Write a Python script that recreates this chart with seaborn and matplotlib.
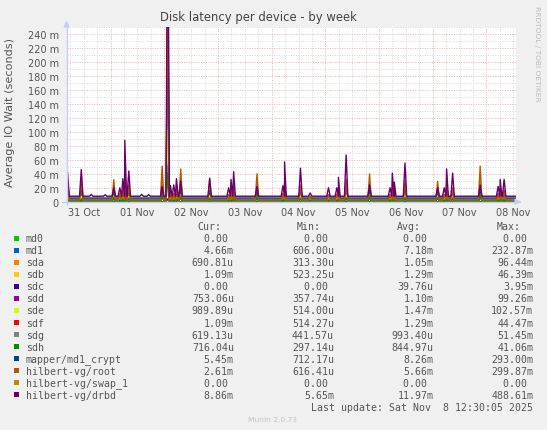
import numpy as np
import pandas as pd
import matplotlib
matplotlib.use("Agg")
import matplotlib.pyplot as plt
from matplotlib.patches import Rectangle
import seaborn as sns

# ---------------- data ----------------
devices = ["md0", "md1", "sda", "sdb", "sdc", "sdd", "sde", "sdf", "sdg", "sdh",
           "mapper/md1_crypt", "hilbert-vg/root", "hilbert-vg/swap_1", "hilbert-vg/drbd"]
colors = ["#00CC00", "#0066B3", "#FF8000", "#FFCC00", "#330099", "#990099", "#CCFF00",
          "#FF0000", "#808080", "#008F00", "#00487D", "#B35A00", "#B38F00", "#6B006B"]

# baseline level of each device (milli-seconds)
baseline = [0.0, 3.8, 0.8, 1.1, 0.0, 0.8, 1.0, 1.3, 0.6, 0.5, 5.3, 2.6, 0.0, 7.8]

# time of each spike, in days since 31 Oct 00:00
spike_days = [0.20, 0.455, 0.64, 0.90, 1.061, 1.173, 1.229, 1.266, 1.340, 1.58, 1.71,
              1.961, 2.065, 2.115, 2.177, 2.227, 2.307, 2.846, 3.199, 3.243, 3.292,
              3.727, 4.210, 4.240, 4.537, 4.717, 5.058, 5.214, 5.243, 5.387, 5.823,
              6.204, 6.247, 6.284, 6.483, 7.091, 7.214, 7.258, 7.370, 7.883, 8.217,
              8.255, 8.329]

# spike peak values per device (milli-seconds), aligned with spike_days
peaks_md0 = [0] * 43
peaks_md1 = [28, 16, 0, 0, 11, 8, 12, 30, 16, 0, 0, 14, 232, 10, 10, 13, 14, 13, 8, 12, 16,
             11, 9, 20, 17, 6, 8, 8, 12, 22, 13, 8, 14, 10, 19, 11, 8, 16, 14, 14, 9, 11, 11]
peaks_sda = [18, 12, 0, 0, 20, 6, 8, 20, 10, 0, 0, 30, 96, 6, 6, 8, 28, 14, 5, 7, 10,
             24, 6, 12, 10, 4, 5, 5, 8, 14, 24, 5, 9, 7, 12, 18, 5, 10, 9, 30, 6, 7, 7]
peaks_sdb = [6, 5, 0, 0, 8, 3, 4, 10, 5, 0, 0, 12, 46, 3, 3, 4, 10, 6, 3, 4, 5,
             9, 3, 6, 5, 2, 3, 3, 4, 6, 9, 3, 5, 4, 6, 7, 3, 5, 5, 12, 3, 4, 4]
peaks_sdc = [0] * 12 + [3.95] + [0] * 30
peaks_sdd = [14, 10, 0, 0, 8, 5, 7, 22, 9, 0, 0, 10, 99, 5, 5, 7, 9, 10, 4, 6, 9,
             8, 5, 11, 9, 3, 4, 4, 7, 12, 8, 4, 8, 6, 11, 8, 4, 9, 8, 10, 5, 6, 6]
peaks_sde = [10, 8, 0, 0, 9, 4, 6, 18, 8, 0, 0, 12, 102, 4, 4, 6, 10, 9, 3, 5, 8,
             10, 4, 10, 8, 3, 4, 4, 6, 10, 10, 4, 7, 5, 10, 9, 4, 8, 7, 12, 4, 5, 5]
peaks_sdf = [5, 4, 0, 0, 6, 3, 4, 9, 5, 0, 0, 10, 44, 3, 3, 4, 8, 5, 3, 4, 5,
             8, 3, 6, 5, 2, 3, 3, 4, 6, 8, 3, 5, 4, 6, 6, 3, 5, 5, 10, 3, 4, 4]
peaks_sdg = [5, 4, 0, 0, 6, 3, 4, 10, 5, 0, 0, 10, 51, 3, 3, 4, 8, 5, 3, 4, 5,
             8, 3, 6, 5, 2, 3, 3, 4, 6, 8, 3, 5, 4, 6, 6, 3, 5, 5, 10, 3, 4, 4]
peaks_sdh = [4, 3, 0, 0, 5, 2, 3, 8, 4, 0, 0, 8, 41, 2, 2, 3, 6, 4, 2, 3, 4,
             6, 2, 5, 4, 2, 2, 2, 3, 5, 6, 2, 4, 3, 5, 5, 2, 4, 4, 8, 2, 3, 3]
peaks_mapper = [30, 20, 0, 0, 14, 10, 14, 38, 20, 0, 0, 18, 293, 12, 12, 16, 18, 16, 10, 14, 20,
                14, 11, 25, 21, 7, 10, 10, 15, 28, 16, 10, 18, 12, 24, 14, 10, 20, 18, 18, 11, 14, 14]
peaks_root = [22, 30, 0, 0, 31.5, 12, 18, 45, 24, 0, 0, 51, 299, 14, 12, 18, 47, 34, 10, 16, 22,
              40, 12, 28, 24, 8, 10, 11, 18, 32, 40, 10, 20, 15, 30, 29, 10, 24, 20, 51, 12, 16, 17]
peaks_swap = [0] * 43
peaks_drbd = [42, 46, 10.5, 10, 20, 20, 33, 88, 44, 10.5, 10, 22, 488, 23, 24, 33, 30, 33, 20, 32, 43,
              22, 23, 57, 48, 12.5, 20, 20, 35, 67, 24, 20, 41, 28, 55.5, 20, 20, 47, 41, 24, 22, 32, 32]

all_peaks = [peaks_md0, peaks_md1, peaks_sda, peaks_sdb, peaks_sdc, peaks_sdd, peaks_sde,
             peaks_sdf, peaks_sdg, peaks_sdh, peaks_mapper, peaks_root, peaks_swap, peaks_drbd]

cur_vals = ["0.00", "4.66m", "690.81u", "1.09m", "0.00", "753.06u", "989.89u", "1.09m",
            "619.13u", "716.04u", "5.45m", "2.61m", "0.00", "8.86m"]
min_vals = ["0.00", "606.00u", "313.30u", "523.25u", "0.00", "357.74u", "514.00u", "514.27u",
            "441.57u", "297.14u", "712.17u", "616.41u", "0.00", "5.65m"]
avg_vals = ["0.00", "7.18m", "1.05m", "1.29m", "39.76u", "1.10m", "1.47m", "1.29m",
            "993.40u", "844.97u", "8.26m", "5.66m", "0.00", "11.97m"]
max_vals = ["0.00", "232.87m", "96.44m", "46.39m", "3.95m", "99.26m", "102.57m", "44.47m",
            "51.45m", "41.06m", "293.00m", "299.87m", "0.00", "488.61m"]

x_tick_labels = ["31 Oct", "01 Nov", "02 Nov", "03 Nov", "04 Nov", "05 Nov", "06 Nov", "07 Nov", "08 Nov"]
x_tick_pos = [0.5, 1.5, 2.5, 3.5, 4.5, 5.5, 6.5, 7.5, 8.5]
t_start, t_end = 0.18, 8.55

# ---------------- build long table ----------------
half_w = 0.032
rows = []
for dev, base, pk in zip(devices, baseline, all_peaks):
    rows.append((dev, t_start, base))
    last = t_start
    for t, v in zip(spike_days, pk):
        if v <= base:
            continue
        a = max(t - half_w, last)
        rows.append((dev, a, base))
        rows.append((dev, t, v))
        rows.append((dev, t + half_w, base))
        last = t + half_w
    rows.append((dev, t_end, base))
df = pd.DataFrame(rows, columns=["device", "day", "value"])

# ---------------- figure ----------------
sns.set_style("white")
plt.rcParams["font.family"] = ["DejaVu Sans"]
W, H = 547, 431
fig = plt.figure(figsize=(W / 100, H / 100), dpi=100, facecolor="#F0F0F0")

def fx(px):
    return px / W

def fy(py):
    return 1 - py / H

ax_l, ax_r, ax_t, ax_b = 66.5, 516, 28.3, 202.7
ax = fig.add_axes([fx(ax_l), fy(ax_b), fx(ax_r) - fx(ax_l), (ax_b - ax_t) / H])
ax.set_facecolor("white")

# grid
for h in np.arange(0.25, 8.6, 0.25):
    if h < t_start or h > t_end:
        continue
    major = abs(h - round(h)) < 1e-6
    ax.axvline(h, color="#EBB0B0" if major else "#D8D8D8", lw=0.7,
               ls=(0, (1, 1.5)), zorder=0)
for yv in range(10, 251, 10):
    major = yv % 20 == 0
    ax.axhline(yv, color="#EBB0B0" if major else "#D8D8D8", lw=0.7,
               ls=(0, (1, 1.5)), zorder=0)

sns.lineplot(data=df, x="day", y="value", hue="device", hue_order=devices,
             palette=colors, estimator=None, sort=False, legend=False,
             linewidth=1.0, ax=ax, zorder=3)

ax.set_xlim(t_start, t_end)
ax.set_ylim(0, 250)
for s in ax.spines.values():
    s.set_visible(False)
ax.set_xlabel("")
ax.set_ylabel("")
ax.set_xticks(x_tick_pos)
ax.set_xticklabels(x_tick_labels)
yt = list(range(0, 241, 20))
ax.set_yticks(yt)
ax.set_yticklabels(["0"] + [f"{v} m" for v in yt[1:]])
ax.tick_params(axis="x", length=0, pad=4, labelsize=7, labelcolor="#555555")
ax.tick_params(axis="y", length=3, width=0.6, color="#EBB0B0", pad=2.5,
               labelsize=7, labelcolor="#555555")

# axis arrows
ac = "#C8CCF4"
fig.add_artist(plt.Line2D([fx(62), fx(520)], [fy(ax_b), fy(ax_b)], color=ac, lw=1.0))
fig.add_artist(plt.Line2D([fx(ax_l), fx(ax_l)], [fy(206), fy(24)], color=ac, lw=1.0))
ax.annotate("", xy=(524, H - ax_b), xytext=(516, H - ax_b), xycoords="figure pixels",
            textcoords="figure pixels",
            arrowprops=dict(arrowstyle="-|>", color=ac, lw=0.8, mutation_scale=9))
ax.annotate("", xy=(ax_l, H - 19), xytext=(ax_l, H - 27), xycoords="figure pixels",
            textcoords="figure pixels",
            arrowprops=dict(arrowstyle="-|>", color=ac, lw=0.8, mutation_scale=9))

# titles and labels
fig.text(fx(258.5), fy(17), "Disk latency per device - by week", ha="center", va="center",
         fontsize=8.4, color="#444444")
fig.text(fx(10.5), fy(113), "Average IO Wait (seconds)", rotation=90, ha="center",
         va="center", fontsize=8.1, color="#555555")
fig.text(fx(537.5), fy(53.5), "RRDTOOL / TOBI OETIKER", rotation=270, ha="center",
         va="center", fontsize=5.4, color="#BBBBBB")

# legend table
mono = "DejaVu Sans Mono"
lfs = 7.1
tc = "#555555"
header_y = 227.3
for name, xr in [("Cur:", 221.6), ("Min:", 321.0), ("Avg:", 420.4), ("Max:", 520.6)]:
    fig.text(fx(xr), fy(header_y), name, ha="right", va="center", family=mono,
             fontsize=lfs, color=tc)

def fmt(s):
    return s + " " if s[-1].isdigit() else s

for i, dev in enumerate(devices):
    yc = 239.3 + 12.03 * i
    fig.add_artist(Rectangle((fx(13.6), fy(yc + 2.8)), 5.6 / W, 5.6 / H,
                             facecolor=colors[i], edgecolor="none",
                             transform=fig.transFigure))
    fig.text(fx(26.0), fy(yc), dev, ha="left", va="center", family=mono,
             fontsize=lfs, color=tc)
    for vals, xr in [(cur_vals, 233.8), (min_vals, 333.9), (avg_vals, 433.4), (max_vals, 533.2)]:
        fig.text(fx(xr), fy(yc), fmt(vals[i]), ha="right", va="center", family=mono,
                 fontsize=lfs, color=tc)

fig.text(fx(533.2), fy(407.7), "Last update: Sat Nov  8 12:30:05 2025", ha="right",
         va="center", family=mono, fontsize=lfs, color=tc)
fig.text(fx(272.9), fy(420.5), "Munin 2.0.73", ha="center", va="center",
         fontsize=5.4, color="#C4C4C4")

fig.savefig("out.png", dpi=100, facecolor=fig.get_facecolor())
